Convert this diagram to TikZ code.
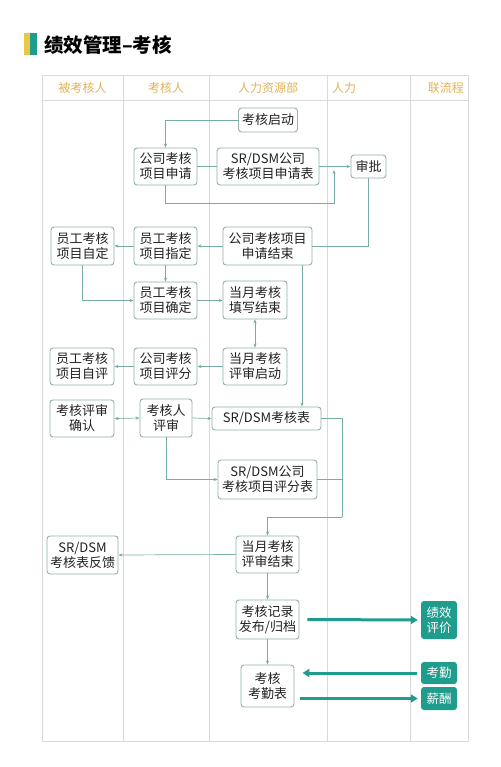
\documentclass[tikz,border=0pt]{standalone}
\usepackage{fontspec}
\usetikzlibrary{arrows.meta}
\newfontfamily\cjk{Noto Sans CJK SC}
\definecolor{tealc}{HTML}{1E9C8C}
\definecolor{bordc}{HTML}{93B0AC}
\definecolor{linec}{HTML}{78ADA6}
\definecolor{gridc}{HTML}{D9D9D9}
\definecolor{headc}{HTML}{E0B358}
\definecolor{txtc}{HTML}{222222}
\definecolor{barY}{HTML}{E8C84A}
\begin{document}
\begin{tikzpicture}[x=1pt,y=-1pt,
 box/.style={draw=bordc, line width=0.9pt, rounded corners=3pt, fill=white, align=center, inner sep=0pt, text=txtc, font=\cjk\fontsize{13}{15}\selectfont},
 tbox/.style={fill=tealc, rounded corners=3pt, align=center, inner sep=0pt, text=white, font=\cjk\fontsize{12.5}{15}\selectfont},
 conn/.style={draw=linec, line width=0.7pt},
 arr/.style={conn, -{Stealth[length=4pt,width=3.2pt]}},
 darr/.style={conn, {Stealth[length=4pt,width=3.2pt]}-{Stealth[length=4pt,width=3.2pt]}},
 bigarr/.style={draw=tealc, line width=3pt, -{Triangle[length=7pt,width=8pt]}},
 head/.style={text=headc, font=\cjk\fontsize{12}{14}\selectfont},
]
\useasboundingbox (0,0) rectangle (500,767);
\fill[white] (0,0) rectangle (500,767);
% title
\fill[barY] (24,33) rectangle (30,55);
\fill[tealc] (30,33) rectangle (37,55);
\node[anchor=west, inner sep=0pt, font=\cjk\bfseries\fontsize{19.5}{22}\selectfont, text=black] (title) at (44,45) {绩效管理–考核};
% table
\draw[gridc, line width=0.8pt] (42,75) rectangle (468,741);
\draw[gridc, line width=0.8pt] (42,100) -- (468,100);
\foreach \xx in {123,209,327,410} \draw[gridc, line width=0.8pt] (\xx,75) -- (\xx,741);
\node[head] (h1) at (82.5,88) {被考核人};
\node[head] (h2) at (166,88) {考核人};
\node[head] (h3) at (268,88) {人力资源部};
\node[head, anchor=west, inner sep=0pt] (h4) at (332,88) {人力};
\node[head, anchor=east, inner sep=0pt] (h5) at (464,88) {联流程};
% nodes
\node[box, minimum width=59pt, minimum height=24pt] (qd) at (268,120) {考核启动};
\node[box, minimum width=63pt, minimum height=37pt] (sq) at (165.5,166.5) {公司考核\\项目申请};
\node[box, minimum width=102pt, minimum height=37pt] (sqb) at (268,166.5) {SR/DSM公司\\考核项目申请表};
\node[box, minimum width=35pt, minimum height=23pt] (sp) at (368.5,166.5) {审批};
\node[box, minimum width=89pt, minimum height=38pt] (sqjs) at (267.5,246) {公司考核项目\\申请结束};
\node[box, minimum width=63pt, minimum height=38pt] (zd) at (165.5,246) {员工考核\\项目指定};
\node[box, minimum width=63pt, minimum height=38pt] (zdd) at (82.5,246) {员工考核\\项目自定};
\node[box, minimum width=63pt, minimum height=37pt] (qdd) at (165.5,300.5) {员工考核\\项目确定};
\node[box, minimum width=64pt, minimum height=38pt] (txjs) at (255,300) {当月考核\\填写结束};
\node[box, minimum width=64pt, minimum height=37pt] (psqd) at (255,366.5) {当月考核\\评审启动};
\node[box, minimum width=63pt, minimum height=37pt] (pf) at (165.5,366.5) {公司考核\\项目评分};
\node[box, minimum width=64pt, minimum height=37pt] (zp) at (82,366.5) {员工考核\\项目自评};
\node[box, minimum width=64pt, minimum height=37pt] (psqr) at (82,418.5) {考核评审\\确认};
\node[box, minimum width=52pt, minimum height=38pt] (khps) at (166,418) {考核人\\评审};
\node[box, minimum width=109pt, minimum height=23pt] (khb) at (266.5,418.5) {SR/DSM考核表};
\node[box, minimum width=99pt, minimum height=39pt] (pfb) at (267.5,479.5) {SR/DSM公司\\考核项目评分表};
\node[box, minimum width=63pt, minimum height=37pt] (psjs) at (267.5,554.5) {当月考核\\评审结束};
\node[box, minimum width=71pt, minimum height=38pt] (fk) at (82.5,555) {SR/DSM\\考核表反馈};
\node[box, minimum width=63pt, minimum height=39pt] (gd) at (267.5,619.5) {考核记录\\发布/归档};
\node[box, minimum width=53pt, minimum height=42pt] (kqb) at (267.5,686) {考核\\考勤表};
\node[tbox, minimum width=36pt, minimum height=38pt] (jx) at (439,620) {绩效\\评价};
\node[tbox, minimum width=36pt, minimum height=22pt] (kq) at (439,673) {考勤};
\node[tbox, minimum width=36pt, minimum height=23pt] (xc) at (439,698.5) {薪酬};
% connectors
\draw[arr] (qd.west) -| (sq.north);
\draw[conn] (sq.east) -- (sqb.west);
\draw[arr] (sqb.east) -- (sp.west);
\coordinate (c1) at (334,203);
\coordinate (c2) at (334,170);
\draw[arr] (sq.south) |- (c1) -- (c2);
\draw[conn] (sp.south) |- (sqjs.east);
\draw[arr] (sqjs.west) -- (zd.east);
\draw[arr] (zd.west) -- (zdd.east);
\draw[arr] (zd.south) -- (qdd.north);
\draw[arr] (zdd.south) |- (qdd.west);
\draw[arr] (qdd.east) -- (txjs.west |- qdd.east);
\draw[darr] (txjs.south) -- (psqd.north);
\draw[arr] (psqd.west) -- (pf.east);
\draw[arr] (pf.west) -- (zp.east);
\coordinate (v1) at (302,0);
\draw[arr] (sqjs.south -| v1) -- (khb.north -| v1);
\draw[darr] (psqr.east) -- (khps.west);
\draw[arr] (khps.east) -- (khb.west);
\draw[arr] (khps.south) |- (pfb.west);
\coordinate (j1) at (342,517);
\draw[conn] (khb.east) -| (j1);
\draw[conn] (pfb.east) -- (pfb.east -| j1);
\draw[arr] (j1) -| (psjs.north);
\draw[arr] (psjs.west) -- (fk.east);
\draw[arr] (psjs.south) -- (gd.north);
\draw[arr] (gd.south) -- (kqb.north);
% thick arrows
\path (kqb.east |- kq.west) coordinate (k1);
\path (kqb.east |- xc.west) coordinate (k2);
\draw[bigarr] ([xshift=8pt]gd.east) -- ([xshift=-3pt]jx.west);
\draw[bigarr] ([xshift=-4pt]kq.west) -- ([xshift=8pt]k1);
\draw[bigarr] ([xshift=6pt]k2) -- ([xshift=-3pt]xc.west);
\end{tikzpicture}
\end{document}
